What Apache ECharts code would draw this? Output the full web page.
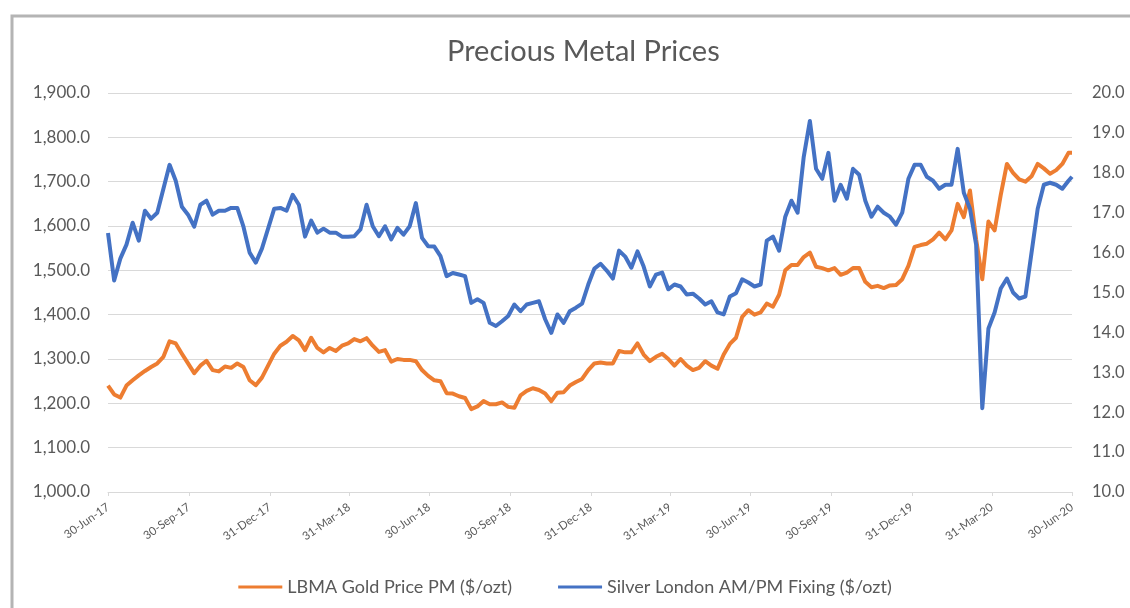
<!DOCTYPE html>
<html>
<head>
<meta charset="utf-8">
<script src="https://cdn.jsdelivr.net/npm/echarts@6/dist/echarts.min.js"></script>
<style>
html,body{margin:0;padding:0;background:#ffffff;}
#chart{width:1130px;height:608px;}
</style>
</head>
<body>
<div id="chart"></div>
<script>
// ---- Data (weekly readings from 30-Jun-17, last point 30-Jun-20) ----
const startDate = [2017, 5, 30];
const endDate = [2020, 5, 30];

const goldPrices = [
  1240, 1220, 1213, 1240, 1252, 1263, 1273, 1282, 1290, 1305,
  1340, 1335, 1312, 1290, 1268, 1285, 1296, 1275, 1272, 1283,
  1280, 1290, 1282, 1252, 1241, 1258, 1285, 1312, 1330, 1339,
  1352, 1342, 1320, 1348, 1325, 1315, 1325, 1318, 1330, 1335,
  1345, 1340, 1347, 1330, 1316, 1320, 1294, 1300, 1298, 1298,
  1295, 1275, 1262, 1252, 1250, 1223, 1222, 1216, 1212, 1187,
  1193, 1205, 1198, 1198, 1202, 1192, 1190, 1218, 1228, 1234,
  1230, 1222, 1205, 1224, 1225, 1240, 1248, 1255, 1275, 1290,
  1292, 1290, 1290, 1318, 1315, 1315, 1335, 1310, 1295, 1305,
  1312, 1300, 1285, 1300, 1285, 1275, 1280, 1295, 1285, 1278,
  1310, 1334, 1348, 1395, 1410, 1400, 1405, 1425, 1418, 1445,
  1500, 1512, 1512, 1530, 1540, 1508, 1505, 1500, 1505, 1490,
  1495, 1505, 1505, 1474, 1462, 1465, 1460, 1466, 1467, 1480,
  1510, 1553, 1557, 1560, 1570, 1585, 1570, 1590, 1650, 1620,
  1680, 1570, 1480, 1610, 1590, 1670, 1740, 1720, 1705, 1700,
  1712, 1740, 1730, 1718, 1726, 1740, 1765,
  1765
];

const silverPrices = [
  16.49, 15.3, 15.85, 16.2, 16.75, 16.3, 17.05, 16.85, 17.0, 17.6,
  18.2, 17.8, 17.15, 16.95, 16.65, 17.2, 17.3, 16.95, 17.05, 17.05,
  17.12, 17.12, 16.65, 16.0, 15.75, 16.1, 16.6, 17.1, 17.12, 17.05,
  17.45, 17.2, 16.4, 16.8, 16.5, 16.6, 16.5, 16.5, 16.4, 16.4,
  16.41, 16.58, 17.2, 16.66, 16.41, 16.66, 16.33, 16.62, 16.45, 16.66,
  17.24, 16.37, 16.16, 16.15, 15.91, 15.41, 15.49, 15.45, 15.41, 14.74,
  14.83, 14.74, 14.24, 14.16, 14.28, 14.41, 14.7, 14.53, 14.7, 14.74,
  14.78, 14.33, 13.99, 14.45, 14.24, 14.53, 14.62, 14.72, 15.2, 15.6,
  15.72, 15.55, 15.35, 16.05, 15.9, 15.62, 16.03, 15.65, 15.15, 15.45,
  15.5, 15.08, 15.2, 15.15, 14.95, 14.97, 14.85, 14.7, 14.78, 14.5,
  14.45, 14.9, 14.98, 15.33, 15.25, 15.15, 15.2, 16.3, 16.4, 16.05,
  16.9, 17.3, 17.0, 18.4, 19.3, 18.1, 17.85, 18.5, 17.3, 17.7,
  17.35, 18.1, 17.95, 17.3, 16.9, 17.15, 17.0, 16.9, 16.7, 17.0,
  17.85, 18.2, 18.2, 17.9, 17.8, 17.6, 17.7, 17.7, 18.6, 17.5,
  17.1, 16.2, 12.1, 14.1, 14.5, 15.1, 15.35, 15.0, 14.85, 14.9,
  16.0, 17.1, 17.7, 17.75, 17.7, 17.6, 17.8,
  17.9
];

const tickDates = [
  [2017, 5, 30], [2017, 8, 30], [2017, 11, 31], [2018, 2, 31],
  [2018, 5, 30], [2018, 8, 30], [2018, 11, 31], [2019, 2, 31],
  [2019, 5, 30], [2019, 8, 30], [2019, 11, 31], [2020, 2, 31],
  [2020, 5, 30]
];
const monthNames = ['Jan','Feb','Mar','Apr','May','Jun','Jul','Aug','Sep','Oct','Nov','Dec'];

const seriesNames = ['LBMA Gold Price PM ($/ozt)', 'Silver London AM/PM Fixing ($/ozt)'];
const titleText = 'Precious Metal Prices';

// ---- Build ----
const dates = [];
for (let k = 0; k < goldPrices.length - 1; k++) {
  dates.push(new Date(startDate[0], startDate[1], startDate[2] + 7 * k).getTime());
}
dates.push(new Date(endDate[0], endDate[1], endDate[2]).getTime());
const tickTs = tickDates.map(d => new Date(d[0], d[1], d[2]).getTime());

function fmtDate(ts) {
  const d = new Date(ts);
  return d.getDate() + '-' + monthNames[d.getMonth()] + '-' + String(d.getFullYear()).slice(2);
}

const goldData = dates.map((t, i) => [t, goldPrices[i]]);
const silverData = dates.map((t, i) => [t, silverPrices[i]]);

const FONT = 'Lato, "Open Sans", sans-serif';
const TXT = '#595959';
const GRID = '#d9d9d9';

const chart = echarts.init(document.getElementById('chart'), null, {renderer: 'canvas'});
chart.setOption({
  animation: false,
  backgroundColor: '#ffffff',
  textStyle: {fontFamily: FONT},
  title: {
    text: titleText,
    left: 442,
    top: 32,
    textStyle: {fontFamily: FONT, fontSize: 29, fontWeight: 'normal', color: TXT}
  },
  graphic: [{
    type: 'rect',
    shape: {x: 12, y: 16, width: 1140, height: 640},
    style: {fill: 'none', stroke: '#b4b4b4', lineWidth: 3},
    silent: true
  }],
  grid: {left: 108, right: 58, top: 93, bottom: 116, containLabel: false},
  legend: {
    data: seriesNames,
    left: 'center',
    top: 573,
    icon: 'rect',
    itemWidth: 44,
    itemHeight: 3,
    itemGap: 46,
    textStyle: {fontFamily: FONT, fontSize: 18, color: TXT}
  },
  xAxis: {
    type: 'value',
    min: dates[0],
    max: dates[dates.length - 1],
    axisLine: {show: true, onZero: false, lineStyle: {color: GRID, width: 1}},
    axisTick: {show: true, customValues: tickTs, length: 4, lineStyle: {color: GRID}},
    axisLabel: {
      customValues: tickTs,
      formatter: fmtDate,
      rotate: 35,
      margin: 14,
      fontFamily: FONT,
      fontSize: 11.5,
      color: TXT
    },
    splitLine: {show: false}
  },
  yAxis: [{
    type: 'value',
    min: 1000,
    max: 1900,
    interval: 100,
    axisLine: {show: false},
    axisTick: {show: false},
    axisLabel: {
      margin: 18,
      fontFamily: FONT,
      fontSize: 17,
      color: TXT,
      formatter: v => v.toLocaleString('en-US', {minimumFractionDigits: 1, maximumFractionDigits: 1})
    },
    splitLine: {show: true, lineStyle: {color: GRID, width: 1}}
  }, {
    type: 'value',
    position: 'right',
    min: 10,
    max: 20,
    interval: 1,
    axisLine: {show: false},
    axisTick: {show: false},
    axisLabel: {
      margin: 20,
      fontFamily: FONT,
      fontSize: 16.5,
      color: TXT,
      formatter: v => v.toFixed(1)
    },
    splitLine: {show: false}
  }],
  series: [{
    name: seriesNames[0],
    type: 'line',
    yAxisIndex: 0,
    data: goldData,
    showSymbol: false,
    symbol: 'none',
    color: '#ED7D31',
    lineStyle: {color: '#ED7D31', width: 4, join: 'round'}
  }, {
    name: seriesNames[1],
    type: 'line',
    yAxisIndex: 1,
    data: silverData,
    showSymbol: false,
    symbol: 'none',
    color: '#4472C4',
    lineStyle: {color: '#4472C4', width: 4, join: 'round'}
  }]
});
</script>
</body>
</html>
